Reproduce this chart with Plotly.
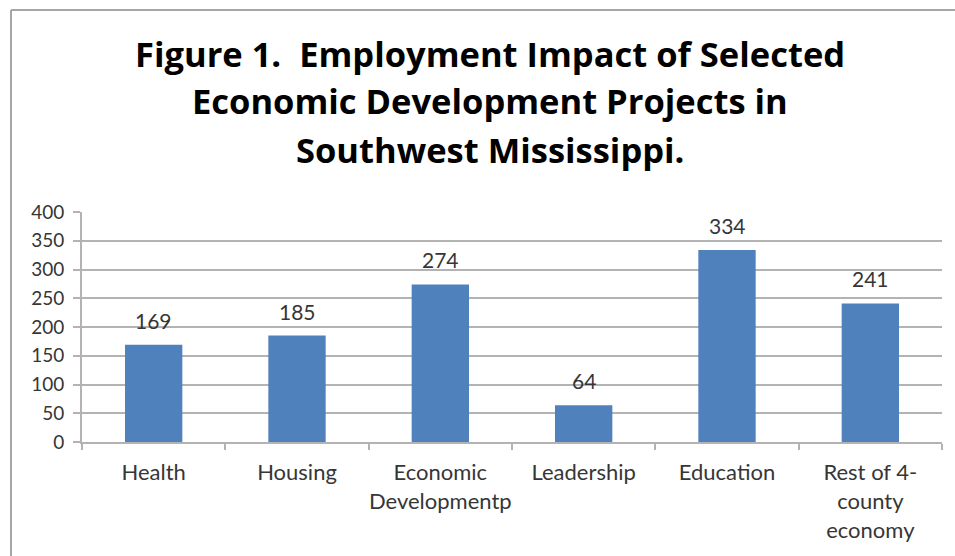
import plotly.graph_objects as go

# Chart data
categories = ["Health", "Housing", "Economic<br>Developmentp", "Leadership",
              "Education", "Rest of 4-<br>county<br>economy"]
jobs = [169, 185, 274, 64, 334, 241]
y_ticks = [0, 50, 100, 150, 200, 250, 300, 350, 400]
title_lines = ["Figure 1.  Employment Impact of Selected",
               "Economic Development Projects in",
               "Southwest Mississippi."]

W, H = 955, 556
ML, MR, MT, MB = 82, 13, 212, 114
PW, PH = W - ML - MR, H - MT - MB


def px_x(px):
    return (px - ML) / PW


def px_y(py):
    return (H - MB - py) / PH


FONT = "Lato"
TITLE_FONT = "Open Sans"
GRID = "#b3b3b3"
TEXT = "#363636"

fig = go.Figure()
fig.add_trace(go.Bar(
    x=categories, y=jobs,
    marker=dict(color="#4F81BD", line=dict(width=0)),
    hoverinfo="x+y",
))

annotations = []
# value labels above each bar
for c, v in zip(categories, jobs):
    annotations.append(dict(
        x=c, y=v, xref="x", yref="y", text=str(v), showarrow=False,
        yanchor="bottom", yshift=10,
        font=dict(family=FONT, size=21, color=TEXT),
    ))
# three-line title
for line, cy in zip(title_lines, [53, 101, 149]):
    annotations.append(dict(
        x=px_x(490), y=px_y(cy), xref="paper", yref="paper", text=f"<b>{line}</b>",
        showarrow=False, xanchor="center", yanchor="middle",
        font=dict(family=TITLE_FONT, size=34.5, color="#000000"),
    ))

# outer chart frame (left and top edges)
shapes = [
    dict(type="line", xref="paper", yref="paper", x0=px_x(11), x1=px_x(11),
         y0=px_y(10), y1=px_y(560), line=dict(color="#a6a6a6", width=2)),
    dict(type="line", xref="paper", yref="paper", x0=px_x(11), x1=px_x(960),
         y0=px_y(10), y1=px_y(10), line=dict(color="#a6a6a6", width=2)),
]

fig.update_layout(
    width=W, height=H,
    margin=dict(l=ML, r=MR, t=MT, b=MB, pad=0, autoexpand=False),
    paper_bgcolor="white", plot_bgcolor="white",
    bargap=0.6, showlegend=False,
    annotations=annotations, shapes=shapes,
    font=dict(family=FONT, color=TEXT),
)
fig.update_xaxes(
    showline=True, linecolor=GRID, linewidth=2,
    ticks="outside", tickson="boundaries", ticklen=6, tickcolor=GRID, tickwidth=2,
    tickfont=dict(family=FONT, size=22, color=TEXT), tickangle=0, automargin=False,
    ticklabelstandoff=10, showgrid=False,
)
fig.update_yaxes(
    range=[0, 400], tickvals=y_ticks, ticktext=[str(t) for t in y_ticks],
    showline=True, linecolor=GRID, linewidth=2,
    ticks="outside", ticklen=7, tickcolor=GRID, tickwidth=2,
    showgrid=True, gridcolor=GRID, gridwidth=2, zeroline=False,
    tickfont=dict(family=FONT, size=19, color=TEXT), automargin=False,
    ticklabelstandoff=5,
)

fig.write_html("out.html")
